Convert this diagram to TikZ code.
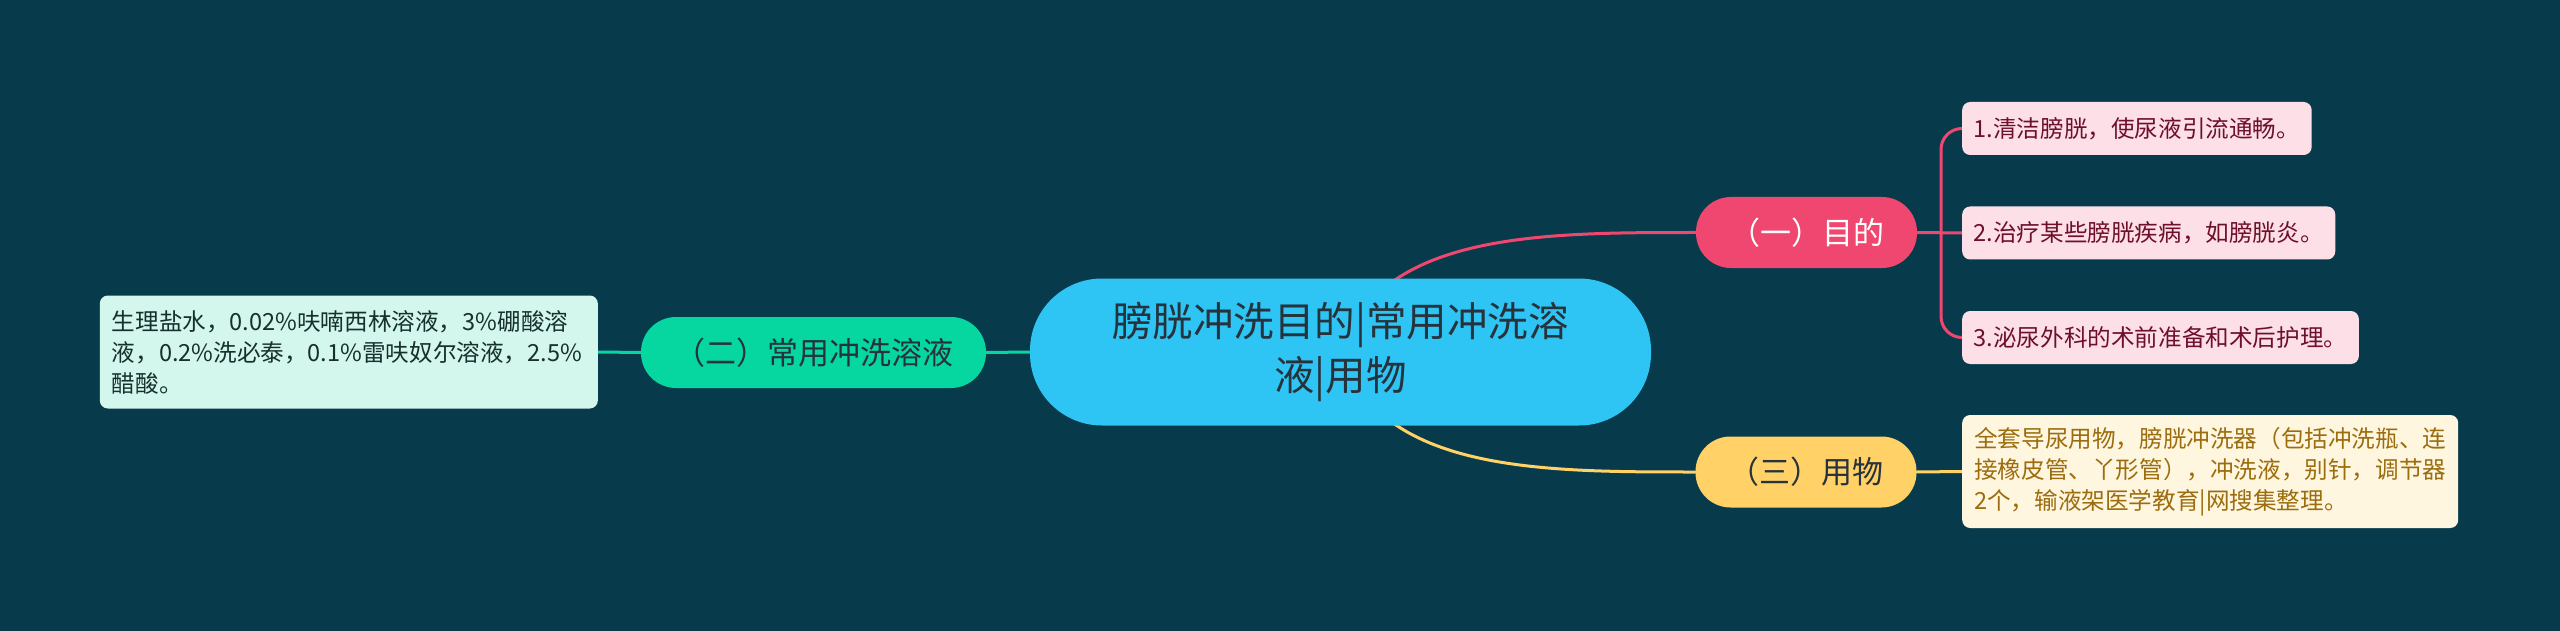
\documentclass[tikz,border=0pt]{standalone}
\usepackage{fontspec}
\setmainfont{Noto Sans CJK SC}
\usetikzlibrary{calc}
\pgfdeclarelayer{bgl}
\pgfdeclarelayer{edges}
\pgfsetlayers{bgl,edges,main}
\definecolor{bgc}{HTML}{073B4C}
\definecolor{rootc}{HTML}{2EC4F3}
\definecolor{roottext}{HTML}{26323C}
\definecolor{pinkc}{HTML}{EF476F}
\definecolor{yellowc}{HTML}{FFD166}
\definecolor{greenc}{HTML}{06D6A0}
\definecolor{pinkleaf}{HTML}{FDE0E7}
\definecolor{pinktext}{HTML}{6E0F2B}
\definecolor{yellowleaf}{HTML}{FFF6E0}
\definecolor{yellowtext}{HTML}{9C6D0E}
\definecolor{greenleaf}{HTML}{D3F7EC}
\definecolor{greentext}{HTML}{17302E}
\definecolor{darktext}{HTML}{26323C}
\begin{document}
\begin{tikzpicture}[x=1pt,y=-1pt,
  mainnode/.style={rounded corners=35pt, minimum height=71pt, inner sep=0pt, font=\fontsize{31}{37}\selectfont},
  leaf/.style={rounded corners=8pt, inner xsep=11.5pt, inner ysep=0pt, minimum height=53pt, font=\fontsize{23.6}{31}\selectfont},
  leafmulti/.style={rounded corners=8pt, inner xsep=12pt, inner ysep=0pt, minimum height=113pt, align=left, font=\fontsize{23.6}{31}\selectfont},
  conn/.style={line width=3pt, line cap=round}
]
\begin{pgfonlayer}{bgl}
\fill[bgc] (0,0) rectangle (2560,631);
\end{pgfonlayer}

% root
\node[fill=rootc, text=roottext, rounded corners=72pt, minimum width=621pt, minimum height=147pt, inner sep=0pt, align=center, font=\fontsize{40.5}{54}\selectfont] (root) at (1340.5,352) {膀胱冲洗目的|常用冲洗溶\\液|用物};

% main branches
\node[mainnode, fill=pinkc, text=white, minimum width=221pt] (n1) at (1806.5,232.5) {（一）目的};
\node[mainnode, fill=greenc, text=darktext, minimum width=345pt] (n2) at (813.5,352.5) {（二）常用冲洗溶液};
\node[mainnode, fill=yellowc, text=darktext, minimum width=221pt] (n3) at (1806,472) {（三）用物};

% leaves of (一)
\node[leaf, fill=pinkleaf, text=pinktext, anchor=west] (c1) at (1962,128.5) {1.清洁膀胱，使尿液引流通畅。};
\node[leaf, fill=pinkleaf, text=pinktext, anchor=west] (c2) at (1962,233) {2.治疗某些膀胱疾病，如膀胱炎。};
\node[leaf, fill=pinkleaf, text=pinktext, anchor=west] (c3) at (1962,337.5) {3.泌尿外科的术前准备和术后护理。};

% leaf of (三)
\node[leafmulti, fill=yellowleaf, text=yellowtext, text width=472pt, anchor=west] (c4) at (1962,471.5) {全套导尿用物，膀胱冲洗器（包括冲洗瓶、连\\接橡皮管、丫形管），冲洗液，别针，调节器\\2个，输液架医学教育|网搜集整理。};

% leaf of (二)
\node[leafmulti, fill=greenleaf, text=greentext, text width=474pt, anchor=east] (c5) at (598,352) {生理盐水，0.02\%呋喃西林溶液，3\%硼酸溶\\液，0.2\%洗必泰，0.1\%雷呋奴尔溶液，2.5\%\\醋酸。};

\coordinate (trunk) at (1941,232.5);

\begin{pgfonlayer}{edges}
\draw[conn, pinkc] (root.center) .. controls (1380,232.5) and (1540,232.5) .. (n1.west);
\draw[conn, yellowc] (root.center) .. controls (1380,472) and (1540,472) .. (n3.west);
\draw[conn, greenc] (root.west) -- (n2.east);
\draw[conn, greenc] (n2.west) -- (c5.east);
\draw[conn, pinkc] (n1.east) -- (c2.west);
\draw[conn, pinkc, rounded corners=21pt] (c1.west) -- (c1.west -| trunk) -- (c3.west -| trunk) -- (c3.west);
\draw[conn, yellowc] (n3.east) -- (c4.west);
\end{pgfonlayer}
\end{tikzpicture}
\end{document}
